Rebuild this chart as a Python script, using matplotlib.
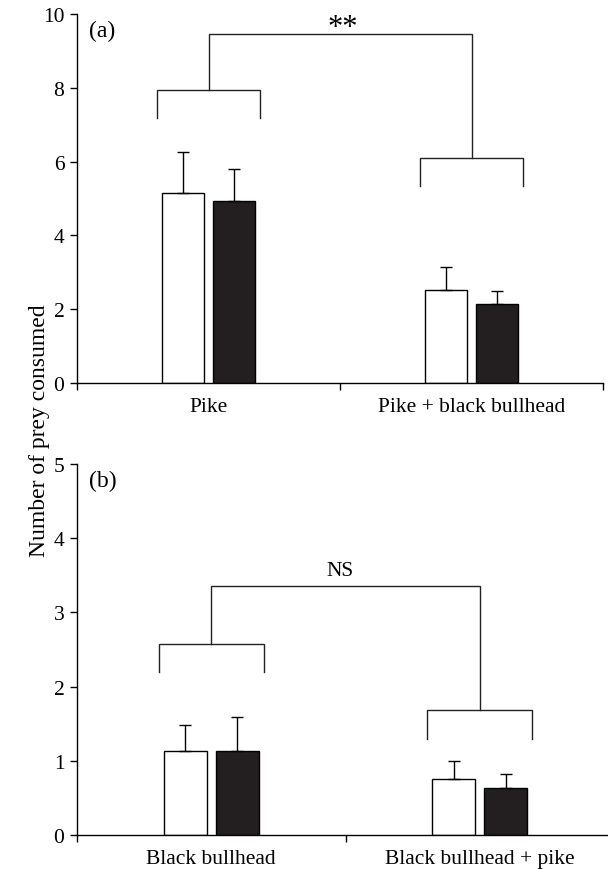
import matplotlib
matplotlib.use("Agg")
import matplotlib.pyplot as plt
import numpy as np

plt.rcParams["font.family"] = ["Liberation Serif", "DejaVu Serif"]

# panel (a): pike predation
cats_a = ["Pike", "Pike + black bullhead"]
open_a = [5.14, 2.53]
open_err_a = [1.13, 0.62]
solid_a = [4.92, 2.15]
solid_err_a = [0.88, 0.34]
bracket_a = [7.93, 6.11]     # group bracket level
bracket_leg_a = [7.17, 5.35]  # bottom of bracket legs
link_a = 9.47
sig_a = "**"

# panel (b): black bullhead predation
cats_b = ["Black bullhead", "Black bullhead + pike"]
open_b = [1.13, 0.76]
open_err_b = [0.35, 0.24]
solid_b = [1.13, 0.63]
solid_err_b = [0.46, 0.19]
bracket_b = [2.57, 1.68]
bracket_leg_b = [2.20, 1.30]
link_b = 3.35
sig_b = "NS"

FS = 15.5
LINE = "#222222"


def draw_panel(ax, cats, opn, opn_err, sol, sol_err, br, br_leg, link, ymax, tag):
    x = np.arange(len(cats))
    w, off, half = 0.16, 0.097, 0.195
    ax.bar(x - off, opn, w, color="white", edgecolor="black", lw=1.0)
    ax.bar(x + off, sol, w, color="#231f20", edgecolor="black", lw=1.0)
    ax.errorbar(x - off, opn, yerr=[np.zeros(len(x)), opn_err], fmt="none",
                ecolor="black", elinewidth=1.0, capsize=4, capthick=1.0)
    ax.errorbar(x + off, sol, yerr=[np.zeros(len(x)), sol_err], fmt="none",
                ecolor="black", elinewidth=1.0, capsize=4, capthick=1.0)
    # group brackets
    for xi, lv, leg in zip(x, br, br_leg):
        ax.plot([xi - half, xi - half, xi + half, xi + half], [leg, lv, lv, leg],
                color=LINE, lw=1.0, solid_joinstyle="miter")
    # link between groups
    ax.plot([x[0], x[0], x[1], x[1]], [br[0], link, link, br[1]],
            color=LINE, lw=1.0, solid_joinstyle="miter")
    ax.text(0.023, 0.955, tag, transform=ax.transAxes, ha="left", va="center",
            fontsize=17)

    ax.set_xlim(-0.5, 1.5)
    ax.set_ylim(0, ymax)
    ax.set_xticks(x)
    ax.set_xticklabels(cats, fontsize=FS)
    ax.set_xticks([-0.5, 0.5, 1.5], minor=True)
    ax.tick_params(axis="x", which="major", length=0, pad=10)
    ax.tick_params(axis="x", which="minor", length=5, width=1.0, direction="out")
    ax.tick_params(axis="y", length=5, width=1.0, direction="out", labelsize=FS, pad=4)
    for s in ("top", "right"):
        ax.spines[s].set_visible(False)
    for s in ("left", "bottom"):
        ax.spines[s].set_linewidth(1.0)


fig = plt.figure(figsize=(6.08, 8.7), dpi=100)
ax_a = fig.add_axes([77 / 608, 486 / 870, 526 / 608, 369 / 870])
ax_b = fig.add_axes([77 / 608, 34 / 870, 537 / 608, 371 / 870])

draw_panel(ax_a, cats_a, open_a, open_err_a, solid_a, solid_err_a,
           bracket_a, bracket_leg_a, link_a, 10, "(a)")
ax_a.set_yticks([0, 2, 4, 6, 8, 10])
# Liberation Serif asterisks sit high in the line box, so anchor below the link
ax_a.text(0.51, link_a - 0.24, sig_a, ha="center", va="bottom", fontsize=22)

draw_panel(ax_b, cats_b, open_b, open_err_b, solid_b, solid_err_b,
           bracket_b, bracket_leg_b, link_b, 5, "(b)")
ax_b.set_yticks([0, 1, 2, 3, 4, 5])
ax_b.text(0.48, link_b + 0.09, sig_b, ha="center", va="bottom", fontsize=FS)

fig.text(40 / 608, 1 - 431 / 870, "Number of prey consumed", rotation=90,
         ha="center", va="center", fontsize=17)

fig.savefig("out.png", dpi=100)
